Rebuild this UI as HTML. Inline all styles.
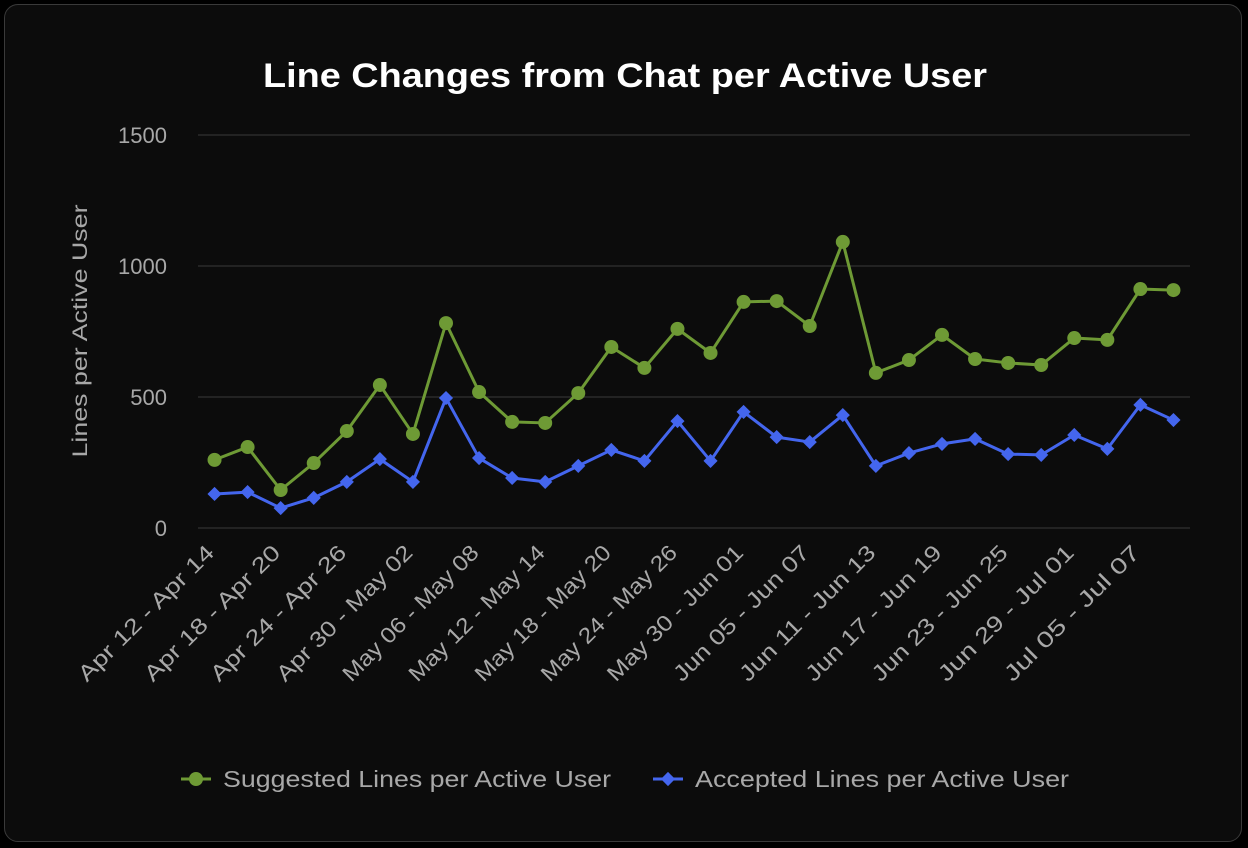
<!DOCTYPE html>
<html><head><meta charset="utf-8"><style>
html,body{margin:0;padding:0;background:#000;width:1248px;height:848px;overflow:hidden;font-family:"Liberation Sans",sans-serif;}
.card{position:absolute;left:4px;top:4px;width:1236px;height:836px;border:1px solid #3a3a3a;border-radius:14px;background:#0c0c0c;}
</style></head><body>
<div class="card"></div>
<svg id="chart" width="1248" height="848" style="position:absolute;left:0;top:0"></svg>
<script>
const categories=["Apr 12 - Apr 14","Apr 15 - Apr 17","Apr 18 - Apr 20","Apr 21 - Apr 23","Apr 24 - Apr 26","Apr 27 - Apr 29","Apr 30 - May 02","May 03 - May 05","May 06 - May 08","May 09 - May 11","May 12 - May 14","May 15 - May 17","May 18 - May 20","May 21 - May 23","May 24 - May 26","May 27 - May 29","May 30 - Jun 01","Jun 02 - Jun 04","Jun 05 - Jun 07","Jun 08 - Jun 10","Jun 11 - Jun 13","Jun 14 - Jun 16","Jun 17 - Jun 19","Jun 20 - Jun 22","Jun 23 - Jun 25","Jun 26 - Jun 28","Jun 29 - Jul 01","Jul 02 - Jul 04","Jul 05 - Jul 07","Jul 08 - Jul 10"];
const suggested=[260,309,145,248,370,546,359,782,519,405,401,515,691,611,760,668,863,866,771,1092,592,641,737,645,630,622,725,718,912,908];
const accepted=[130,137,76,115,176,263,176,496,267,191,176,237,298,256,408,256,443,347,328,431,237,286,321,340,282,279,355,302,470,412];
const yTicks=[0,500,1000,1500];
const NS="http://www.w3.org/2000/svg";
const svg=document.getElementById('chart');
const L=198,R=1190,T=135,B=528;
const x=i=>L+(R-L)/categories.length*(i+0.5);
const y=v=>B-(v/1500)*(B-T);
function el(tag,attrs,parent){const e=document.createElementNS(NS,tag);for(const k in attrs)e.setAttribute(k,attrs[k]);(parent||svg).appendChild(e);return e;}
const title=el('text',{x:625,y:87,'text-anchor':'middle',fill:'#fff','font-size':34,'font-weight':'bold',textLength:724,lengthAdjust:'spacingAndGlyphs'});
title.textContent="Line Changes from Chat per Active User";


yTicks.forEach(t=>{
  const g=el('line',{x1:L,x2:R,y1:y(t),y2:y(t),stroke:'#3a3a3a','stroke-width':1});
  
  
  const tx=el('text',{x:167,y:y(t)+8,'text-anchor':'end',fill:'#a8a8a8','font-size':22});
  tx.textContent=t;
  
  
});
const yt=el('text',{transform:'translate(87,331) rotate(-90)','text-anchor':'middle',fill:'#a8a8a8','font-size':21,textLength:253,lengthAdjust:'spacingAndGlyphs'});
yt.textContent="Lines per Active User";


categories.forEach((c,i)=>{
  if(i%2)return;
  const tx=el('text',{transform:`translate(${x(i)+1},${554}) rotate(-45)`,'text-anchor':'end',fill:'#a8a8a8','font-size':22,textLength:182,lengthAdjust:'spacingAndGlyphs'});
  tx.textContent=c;
  
  
});
function series(vals,color,marker,name){
  const p=el('polyline',{points:vals.map((v,i)=>x(i)+','+y(v)).join(' '),fill:'none',stroke:color,'stroke-width':3,'stroke-linejoin':'round'});
  
  
  vals.forEach((v,i)=>{
    let m;
    if(marker==='circle')m=el('circle',{cx:x(i),cy:y(v),r:7,fill:color});
    else m=el('rect',{x:x(i)-5,y:y(v)-5,width:10,height:10,fill:color,transform:`rotate(45 ${x(i)} ${y(v)})`});
    
    
  });
}
series(suggested,'#6e9a35','circle','suggested');
series(accepted,'#4466ee','diamond','accepted');
function legend(lx,color,marker,label,name,w){
  const l=el('line',{x1:lx,x2:lx+30,y1:779,y2:779,stroke:color,'stroke-width':3});
  
  
  let m;
  if(marker==='circle')m=el('circle',{cx:lx+15,cy:779,r:7,fill:color});
  else m=el('rect',{x:lx+10,y:774,width:10,height:10,fill:color,transform:`rotate(45 ${lx+15} 779)`});
  
  
  const t=el('text',{x:lx+42,y:787,fill:'#a8a8a8','font-size':23,textLength:w,lengthAdjust:'spacingAndGlyphs'});
  t.textContent=label;
  
  
}
legend(181,'#6e9a35','circle','Suggested Lines per Active User','suggested',388);
legend(653,'#4466ee','diamond','Accepted Lines per Active User','accepted',374);
</script>
</body></html>
